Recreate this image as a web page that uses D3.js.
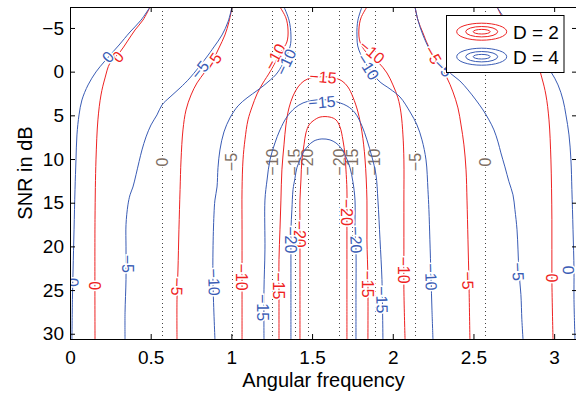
<!DOCTYPE html>
<html>
<head>
<meta charset="utf-8">
<script src="https://cdn.jsdelivr.net/npm/d3@7"></script>
<style>
  body { margin: 0; background: #fff; }
  text { font-family: "Liberation Sans", Arial, Helvetica, sans-serif; }
</style>
</head>
<body>
<div id="chart"></div>
<script>
// ---- data (angular frequency, SNR in dB) ----
const xTicks = [0, 0.5, 1, 1.5, 2, 2.5, 3];
const yTicks = [-5, 0, 5, 10, 15, 20, 25, 30];

// dotted asymptotes and their levels
const asymptotes = [0.57, 1.003, 1.252, 1.393, 1.474, 1.668, 1.749, 1.889, 2.138, 2.571];
const asymptoteLevels = [0, -5, -10, -15, -20, -20, -15, -10, -5, 0];
const asymptoteLabelSnr = 10.35;

// D = 2 contours
const red0L = [[0.496,-7.4],[0.452,-5.9],[0.403,-4.77],[0.353,-3.4],[0.310,-2.25],[0.248,-1.0],[0.217,0.72],[0.192,2.67],[0.173,5.52],[0.161,10.1],[0.155,16.9],[0.155,30.6]];
const red5L = [[1.004,-7.4],[0.985,-5.7],[0.960,-4.2],[0.923,-2.71],[0.886,-1.34],[0.836,0.03],[0.787,1.29],[0.750,2.67],[0.719,4.38],[0.700,6.67],[0.688,10.1],[0.682,13.5],[0.675,18.1],[0.669,22.7],[0.663,26.1],[0.663,30.6]];
const red10L = [[1.301,-7.4],[1.338,-6.15],[1.351,-4.77],[1.344,-3.4],[1.307,-2.25],[1.239,0.03],[1.196,1.29],[1.159,2.55],[1.128,4.04],[1.103,5.52],[1.084,7.8],[1.072,10.1],[1.066,13.5],[1.066,18.1],[1.066,22.7],[1.066,26.1],[1.066,30.6]];
const red15 = [[1.295,30.6],[1.295,24.97],[1.295,21.5],[1.301,18.1],[1.307,14.7],[1.313,11.24],[1.326,8.38],[1.338,6.1],[1.357,4.15],[1.382,2.78],[1.413,1.75],[1.450,1.06],[1.500,0.68],[1.568,0.58],[1.630,0.68],[1.685,1.06],[1.722,1.75],[1.753,2.9],[1.784,4.61],[1.809,6.9],[1.828,10.0],[1.840,14.7],[1.840,19.25],[1.846,23.8],[1.846,30.6]];
const red20 = [[1.425,30.6],[1.425,24.97],[1.425,19.6],[1.425,17.5],[1.425,14.7],[1.431,12.4],[1.437,10.1],[1.450,8.38],[1.462,7.01],[1.481,6.1],[1.506,5.64],[1.549,5.2],[1.611,5.2],[1.648,5.52],[1.673,6.33],[1.691,7.81],[1.704,9.53],[1.710,11.24],[1.716,13.53],[1.716,17.08],[1.716,21.5],[1.716,26.1],[1.716,30.6]];
const red10R = [[1.840,-7.4],[1.803,-6.15],[1.790,-4.77],[1.797,-3.4],[1.834,-2.25],[1.908,-1.11],[1.964,0.15],[2.001,1.52],[2.032,3.0],[2.051,4.72],[2.063,7.24],[2.069,10.1],[2.069,14.7],[2.069,20.4],[2.069,24.97],[2.076,30.6]];
const red5R = [[2.138,-7.4],[2.156,-5.9],[2.187,-4.43],[2.218,-3.05],[2.292,-0.65],[2.336,0.72],[2.373,2.32],[2.404,4.15],[2.423,6.1],[2.441,8.38],[2.454,11.24],[2.460,14.7],[2.466,19.25],[2.472,24.0],[2.478,30.6]];
const red0R = [[2.646,-7.4],[2.689,-5.9],[2.738,-4.77],[2.788,-3.4],[2.831,-2.25],[2.893,-1.0],[2.924,0.72],[2.949,2.67],[2.968,5.52],[2.980,10.1],[2.986,16.9],[2.986,23.8],[2.993,30.6]];

// D = 4 contours
const blue0L = [[0.496,-7.4],[0.44,-5.9],[0.372,-4.54],[0.304,-3.05],[0.26,-2.14],[0.211,-1.11],[0.161,0.03],[0.112,1.52],[0.074,3.24],[0.056,4.95],[0.043,7.24],[0.037,10.1],[0.031,13.5],[0.025,18.1],[0.019,22.7],[0.015,26.1],[0.012,30.6]];
const blue5L = [[1.004,-7.4],[0.979,-5.7],[0.942,-4.2],[0.892,-2.83],[0.843,-1.57],[0.743,0.72],[0.682,1.86],[0.620,2.9],[0.570,3.81],[0.539,4.95],[0.502,6.1],[0.471,7.47],[0.446,8.96],[0.428,10.3],[0.409,11.8],[0.390,13.2],[0.372,14.1],[0.359,15.25],[0.347,17.5],[0.347,20.05],[0.347,23.8],[0.341,27.6],[0.341,30.6]];
const blue10L = [[1.326,-7.4],[1.357,-5.9],[1.369,-4.2],[1.363,-2.83],[1.289,0.03],[1.227,1.18],[1.165,2.09],[1.097,3.0],[1.041,3.92],[0.991,5.3],[0.954,6.9],[0.929,8.96],[0.917,11.0],[0.911,13.2],[0.898,14.7],[0.892,16.4],[0.886,20.4],[0.886,24.1],[0.898,30.6]];
const blue15 = [[1.202,30.6],[1.202,24.97],[1.208,20.4],[1.208,14.7],[1.221,12.4],[1.239,10.1],[1.270,8.16],[1.301,6.67],[1.344,5.18],[1.394,4.15],[1.444,3.58],[1.500,3.3],[1.568,3.2],[1.630,3.35],[1.716,3.92],[1.766,4.72],[1.809,6.21],[1.840,7.81],[1.871,9.76],[1.896,11.8],[1.908,14.7],[1.921,19.25],[1.933,23.8],[1.939,30.6]];
const blue20 = [[1.369,30.6],[1.369,26.1],[1.369,20.4],[1.369,18.1],[1.375,15.8],[1.382,13.5],[1.394,12.2],[1.406,11.0],[1.425,10.1],[1.444,9.3],[1.475,8.5],[1.512,7.93],[1.561,7.7],[1.611,7.81],[1.648,8.16],[1.679,8.73],[1.710,9.76],[1.735,11.0],[1.753,12.6],[1.766,14.7],[1.766,18.1],[1.772,20.4],[1.772,26.1],[1.772,30.6]];
const blue10R = [[1.809,-7.4],[1.784,-5.9],[1.778,-4.2],[1.790,-2.48],[1.908,0.95],[1.983,1.98],[2.045,2.9],[2.107,4.61],[2.150,6.1],[2.181,7.81],[2.206,10.1],[2.218,13.5],[2.224,15.8],[2.230,19.25],[2.237,23.5],[2.243,27.3],[2.249,30.6]];
const blue5R = [[2.138,-7.4],[2.156,-5.9],[2.187,-4.2],[2.230,-2.48],[2.274,-1.34],[2.354,0.15],[2.416,1.06],[2.466,2.09],[2.515,3.24],[2.559,4.38],[2.596,5.52],[2.627,6.67],[2.652,8.04],[2.670,9.3],[2.695,10.9],[2.720,12.6],[2.745,14.1],[2.757,15.8],[2.770,18.1],[2.776,20.4],[2.782,22.9],[2.794,25.5],[2.800,28.4],[2.807,30.6]];
const blue0R = [[2.646,-7.4],[2.701,-5.9],[2.770,-4.54],[2.838,-3.05],[2.881,-2.14],[2.931,-1.11],[2.980,0.03],[3.024,1.52],[3.055,3.24],[3.073,4.95],[3.092,7.24],[3.104,10.1],[3.110,13.5],[3.117,18.1],[3.123,22.7],[3.123,26.1],[3.129,30.6]];

// inline contour labels: [omega, snr, level]
const redLabels = [[0.297,-1.68,0],[0.155,24.5,0],[0.886,-1.1,-5],[0.663,24.6,-5],[1.27,-1.7,-10],[1.066,23.5,-10],[1.568,0.61,-15],[1.295,24.5,-15],[1.846,24.3,-15],[1.425,18.6,-20],[1.716,16.1,-20],[1.871,-2.25,-10],[2.069,22.7,-10],[2.249,-1.9,-5],[2.466,23.9,-5],[2.986,23.6,0]];
const blueLabels = [[0.235,-1.68,0],[0.019,24.1,0],[0.805,-0.2,-5],[0.359,22.0,-5],[1.338,-1.1,-10],[0.892,24.1,-10],[1.561,3.5,-15],[1.196,27.0,-15],[1.933,26.1,-15],[1.369,19.25,-20],[1.772,19.25,-20],[1.846,-0.54,-10],[2.237,23.5,-10],[2.311,-0.42,-5],[2.776,22.9,-5],[3.088,22.7,0]];

const legendNames = ['D = 2', 'D = 4'];

const RED = '#ee2222';
const BLUE = '#3a5cb5';
const GREY = '#7d6e64';

const contours = [
  { c: RED, level: 0, pts: red0L }, { c: RED, level: -5, pts: red5L }, { c: RED, level: -10, pts: red10L },
  { c: RED, level: -15, pts: red15 }, { c: RED, level: -20, pts: red20 }, { c: RED, level: -10, pts: red10R },
  { c: RED, level: -5, pts: red5R }, { c: RED, level: 0, pts: red0R },
  { c: BLUE, level: 0, pts: blue0L }, { c: BLUE, level: -5, pts: blue5L }, { c: BLUE, level: -10, pts: blue10L },
  { c: BLUE, level: -15, pts: blue15 }, { c: BLUE, level: -20, pts: blue20 }, { c: BLUE, level: -10, pts: blue10R },
  { c: BLUE, level: -5, pts: blue5R }, { c: BLUE, level: 0, pts: blue0R },
];

const fmt = (v) => String(v).replace('-', '\u2212');

const width = 576;
const height = 397;
const plotLeft = 70, plotRight = 577, plotTop = 7, plotBottom = 339;

const svg = d3.select('#chart')
  .append('svg')
  .attr('width', width)
  .attr('height', height);

const x = d3.scaleLinear().domain([0, Math.PI]).range([plotLeft, plotRight]);
const y = d3.scaleLinear().domain([-7.4, 30.6]).range([plotTop, plotBottom]);

svg.append('clipPath').attr('id', 'plot')
  .append('rect')
  .attr('x', plotLeft).attr('y', plotTop)
  .attr('width', plotRight - plotLeft).attr('height', plotBottom - plotTop);

const plot = svg.append('g').attr('clip-path', 'url(#plot)');

// dotted asymptotes
plot.selectAll('line.asym')
  .data(asymptotes)
  .join('line')
  .attr('class', 'asym')
  .attr('x1', (d) => Math.round(x(d)) + 0.5)
  .attr('x2', (d) => Math.round(x(d)) + 0.5)
  .attr('y1', y(-7.4))
  .attr('y2', y(30.6))
  .attr('stroke', '#444')
  .attr('stroke-width', 1)
  .attr('stroke-dasharray', '1,3');

plot.selectAll('text.asym')
  .data(asymptotes)
  .join('text')
  .attr('class', 'asym')
  .attr('transform', (d) => `translate(${x(d)},${y(asymptoteLabelSnr)}) rotate(-90)`)
  .attr('text-anchor', 'middle')
  .attr('dy', '0.35em')
  .attr('font-size', 16)
  .attr('fill', GREY)
  .attr('stroke', '#fff')
  .attr('stroke-width', 3)
  .attr('paint-order', 'stroke')
  .text((d, i) => fmt(asymptoteLevels[i]));

// contour lines
const line = d3.line()
  .x((d) => x(d[0]))
  .y((d) => y(d[1]))
  .curve(d3.curveCatmullRom.alpha(0.5));

plot.selectAll('path.contour')
  .data(contours)
  .join('path')
  .attr('class', 'contour')
  .attr('fill', 'none')
  .attr('stroke', (d) => d.c)
  .attr('stroke-width', 1)
  .attr('d', (d) => line(d.pts));

// label angle from the nearest segment of the matching contour
function labelAngle(lab, colour) {
  let best = null;
  let bestDist = Infinity;
  const px = x(lab[0]);
  const py = y(lab[1]);
  contours.filter((c) => c.c === colour && c.level === lab[2]).forEach((c) => {
    for (let i = 0; i < c.pts.length - 1; i++) {
      const ax = x(c.pts[i][0]), ay = y(c.pts[i][1]);
      const bx = x(c.pts[i + 1][0]), by = y(c.pts[i + 1][1]);
      const dx = bx - ax, dy = by - ay;
      const t = Math.max(0, Math.min(1, ((px - ax) * dx + (py - ay) * dy) / (dx * dx + dy * dy)));
      const qx = ax + t * dx - px, qy = ay + t * dy - py;
      const dist = qx * qx + qy * qy;
      if (dist < bestDist) {
        bestDist = dist;
        best = [dx, dy];
      }
    }
  });
  let ang = Math.atan2(best[1], best[0]) * 180 / Math.PI;
  if (ang > 90) ang -= 180;
  if (ang <= -90) ang += 180;
  if (ang < -70) ang += 180;
  return ang;
}

const labels = redLabels.map((d) => ({ d, c: RED }))
  .concat(blueLabels.map((d) => ({ d, c: BLUE })));

plot.selectAll('text.clabel')
  .data(labels)
  .join('text')
  .attr('class', 'clabel')
  .attr('transform', (l) => `translate(${x(l.d[0])},${y(l.d[1])}) rotate(${labelAngle(l.d, l.c)})`)
  .attr('text-anchor', 'middle')
  .attr('dy', '0.35em')
  .attr('font-size', 16)
  .attr('fill', (l) => l.c)
  .attr('stroke', '#fff')
  .attr('stroke-width', 3)
  .attr('paint-order', 'stroke')
  .text((l) => fmt(l.d[2]));

// frame
svg.append('rect')
  .attr('x', plotLeft + 0.5).attr('y', plotTop + 0.5)
  .attr('width', plotRight - plotLeft).attr('height', plotBottom - plotTop)
  .attr('fill', 'none')
  .attr('stroke', '#000')
  .attr('stroke-width', 1);

// axes
const styleAxis = (g) => {
  g.select('.domain').remove();
  g.attr('font-size', 19).attr('font-family', '"Liberation Sans", Arial, Helvetica, sans-serif');
  g.selectAll('.tick line').attr('stroke', '#000');
  g.selectAll('.tick text').attr('fill', '#000');
};

svg.append('g')
  .attr('transform', `translate(0,${plotBottom})`)
  .call(d3.axisBottom(x).tickValues(xTicks).tickSizeInner(-5).tickSizeOuter(0).tickPadding(12).tickFormat((d) => fmt(d)))
  .call(styleAxis);

svg.append('g')
  .attr('transform', `translate(0,${plotTop})`)
  .call(d3.axisTop(x).tickValues(xTicks).tickSizeInner(-5).tickSizeOuter(0).tickFormat(''))
  .call(styleAxis);

svg.append('g')
  .attr('transform', `translate(${plotLeft},0)`)
  .call(d3.axisLeft(y).tickValues(yTicks).tickSizeInner(-5).tickSizeOuter(0).tickPadding(6).tickFormat((d) => fmt(d)))
  .call(styleAxis);

svg.append('g')
  .attr('transform', `translate(${plotRight},0)`)
  .call(d3.axisRight(y).tickValues(yTicks).tickSizeInner(-5).tickSizeOuter(0).tickFormat(''))
  .call(styleAxis);

// axis titles
svg.append('text')
  .attr('x', (plotLeft + plotRight) / 2)
  .attr('y', 387)
  .attr('text-anchor', 'middle')
  .attr('font-size', 20)
  .text('Angular frequency');

svg.append('text')
  .attr('transform', `translate(32,${(plotTop + plotBottom) / 2}) rotate(-90)`)
  .attr('text-anchor', 'middle')
  .attr('font-size', 20)
  .text('SNR in dB');

// legend
const legend = svg.append('g');
legend.append('rect')
  .attr('x', 446.5).attr('y', 15.5)
  .attr('width', 117.5).attr('height', 57)
  .attr('fill', '#fff')
  .attr('stroke', '#000')
  .attr('stroke-width', 1);

const rings = [[25, 8.5], [16, 5.2], [8.5, 2.3]];
[RED, BLUE].forEach((c, i) => {
  const cy = 31.7 + i * 25;
  legend.selectAll(null)
    .data(rings)
    .join('ellipse')
    .attr('cx', 481.7)
    .attr('cy', cy)
    .attr('rx', (r) => r[0])
    .attr('ry', (r) => r[1])
    .attr('fill', 'none')
    .attr('stroke', c)
    .attr('stroke-width', 1);
  legend.append('text')
    .attr('x', 513)
    .attr('y', cy + 6.8)
    .attr('font-size', 19)
    .text(legendNames[i]);
});
</script>
</body>
</html>
